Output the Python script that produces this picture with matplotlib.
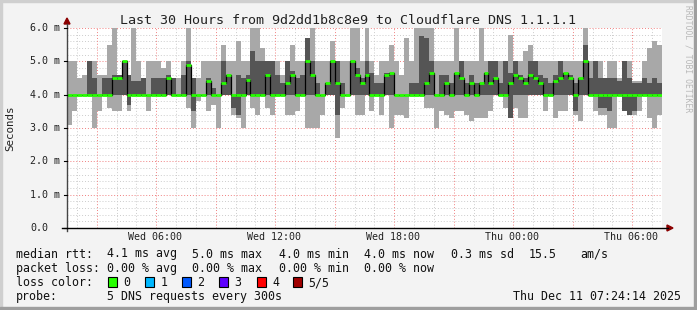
import numpy as np
import matplotlib
matplotlib.use("Agg")
import matplotlib.pyplot as plt
from matplotlib.patches import Rectangle, Polygon
from matplotlib.lines import Line2D

# smoke data, one column per 15 minutes (ms): min, 2nd, median, 4th, max ping
mins = [3.1, 3.5, 4.0, 4.0, 4.0, 3.0, 3.5, 4.0, 3.6, 3.5, 3.5, 4.0, 3.5, 4.0, 4.0, 4.0, 3.5, 4.0, 4.0, 4.0,
        4.0, 4.0, 4.0, 4.0, 3.6, 3.0, 3.8, 4.0, 3.5, 3.7, 3.0, 4.0, 4.0, 3.4, 3.3, 3.0, 4.0, 3.6, 3.4, 4.0,
        3.6, 3.4, 4.0, 4.0, 3.4, 3.4, 3.5, 4.0, 3.0, 3.0, 3.0, 3.4, 4.0, 4.0, 2.7, 3.6, 4.0, 4.0, 3.4, 3.4,
        4.0, 3.5, 4.0, 3.4, 4.0, 3.0, 3.4, 3.4, 3.3, 4.0, 4.0, 4.0, 3.6, 3.6, 3.0, 3.5, 3.4, 3.3, 3.5, 3.5,
        3.4, 3.2, 3.3, 3.3, 3.3, 3.5, 4.0, 4.0, 3.6, 3.3, 3.6, 3.3, 3.3, 4.0, 4.0, 4.0, 3.5, 4.0, 3.3, 3.5,
        3.5, 4.0, 3.4, 3.2, 4.0, 4.0, 3.5, 3.4, 3.4, 3.0, 3.0, 4.0, 3.5, 3.4, 3.4, 3.5, 4.0, 3.3, 3.0, 3.4]
lows = [4.0, 4.0, 4.0, 4.0, 4.0, 4.0, 4.0, 4.0, 4.0, 4.0, 4.0, 4.0, 3.7, 4.0, 4.0, 4.0, 4.0, 4.0, 4.0, 4.0,
        4.0, 4.0, 4.0, 4.0, 4.0, 3.5, 4.0, 4.0, 4.0, 4.0, 4.0, 4.0, 4.0, 3.6, 3.4, 4.0, 4.0, 4.0, 4.0, 4.0,
        4.0, 4.0, 4.0, 4.0, 4.0, 4.0, 4.0, 4.0, 4.0, 4.0, 4.0, 4.0, 4.0, 4.0, 3.4, 4.0, 4.0, 4.0, 4.0, 4.0,
        4.0, 4.0, 4.0, 4.0, 4.0, 4.0, 4.0, 4.0, 4.0, 4.0, 4.0, 4.0, 4.0, 4.0, 4.0, 4.0, 4.0, 4.0, 4.0, 4.0,
        4.0, 4.0, 4.0, 4.0, 4.0, 4.0, 4.0, 4.0, 4.0, 3.3, 4.0, 4.0, 4.0, 4.0, 4.0, 4.0, 4.0, 4.0, 4.0, 4.0,
        4.0, 4.0, 3.5, 4.0, 4.0, 4.0, 4.0, 3.6, 3.6, 3.5, 4.0, 4.0, 3.5, 3.4, 3.5, 4.0, 4.0, 4.0, 4.0, 4.0]
medians = [4.0, 4.0, 4.0, 4.0, 4.0, 4.0, 4.0, 4.0, 4.0, 4.5, 4.5, 5.0, 4.0, 4.0, 4.0, 4.0, 4.0, 4.0, 4.0, 4.0,
           4.5, 4.0, 4.0, 4.0, 4.9, 4.0, 4.0, 4.0, 4.4, 4.0, 4.0, 4.35, 4.6, 4.0, 4.0, 4.0, 4.45, 4.0, 4.0, 4.0,
           4.6, 4.0, 4.0, 4.0, 4.35, 4.6, 4.0, 4.0, 5.0, 4.6, 4.0, 4.0, 4.35, 5.0, 4.35, 4.0, 4.0, 5.0, 4.6, 4.35,
           4.6, 4.0, 4.0, 4.0, 4.6, 4.65, 4.0, 4.0, 4.0, 4.0, 4.0, 4.0, 4.35, 4.65, 4.0, 4.0, 4.35, 4.0, 4.65, 4.5,
           4.0, 4.35, 4.0, 4.35, 4.65, 4.35, 4.5, 4.0, 4.0, 4.35, 4.6, 4.5, 4.35, 4.6, 4.5, 4.35, 4.0, 4.0, 4.4, 4.5,
           4.65, 4.5, 4.0, 4.5, 5.0, 4.0, 4.0, 4.0, 4.0, 4.0, 4.0, 4.0, 4.0, 4.0, 4.0, 4.0, 4.0, 4.0, 4.0, 4.0]
highs = [4.0, 4.0, 4.0, 4.0, 5.0, 4.5, 4.0, 4.5, 4.5, 4.6, 4.6, 5.0, 4.6, 4.4, 4.4, 4.5, 4.0, 4.5, 4.5, 4.5,
         4.6, 4.5, 4.0, 4.6, 5.0, 4.5, 4.0, 4.0, 4.5, 4.2, 4.0, 5.0, 4.6, 4.0, 4.6, 4.5, 4.6, 5.3, 5.0, 5.0,
         5.0, 5.0, 4.6, 4.35, 5.0, 4.7, 4.5, 4.6, 5.7, 5.0, 4.35, 4.0, 4.35, 5.0, 5.0, 4.35, 4.0, 5.0, 4.8, 4.5,
         5.0, 4.65, 4.35, 4.35, 4.65, 4.65, 4.0, 4.0, 4.0, 4.35, 4.35, 5.75, 5.7, 5.0, 4.0, 4.6, 4.6, 4.35, 4.65, 5.0,
         4.35, 4.6, 4.35, 4.35, 4.65, 5.0, 5.0, 4.35, 5.0, 4.65, 5.0, 4.6, 4.5, 5.0, 5.0, 4.6, 4.5, 4.35, 4.6, 5.0,
         4.65, 4.6, 4.35, 4.5, 5.5, 4.5, 5.0, 4.5, 4.5, 4.5, 4.5, 4.4, 5.0, 4.5, 4.35, 4.35, 4.5, 4.35, 4.5, 4.35]
maxs = [5.0, 5.0, 4.5, 4.6, 5.0, 5.0, 4.6, 4.6, 5.5, 6.0, 4.6, 5.0, 4.6, 6.0, 5.0, 4.5, 5.0, 5.0, 5.0, 4.8,
        5.0, 4.5, 4.5, 5.0, 6.0, 4.5, 4.5, 5.0, 5.0, 5.0, 5.0, 5.5, 5.0, 5.0, 5.6, 5.0, 5.0, 6.0, 6.0, 5.4,
        5.0, 5.0, 5.0, 4.6, 5.0, 5.5, 5.0, 5.0, 5.7, 6.0, 5.0, 5.0, 5.0, 5.6, 5.0, 5.0, 5.0, 6.0, 6.0, 5.0,
        6.0, 5.0, 4.6, 5.0, 5.0, 5.5, 5.0, 4.6, 5.7, 5.0, 6.0, 6.0, 6.0, 6.0, 5.0, 5.0, 5.0, 5.0, 6.0, 5.0,
        5.0, 5.0, 5.0, 6.0, 5.0, 5.0, 5.0, 5.0, 5.0, 5.8, 5.0, 5.0, 5.3, 5.5, 5.0, 5.0, 5.0, 5.0, 5.0, 5.0,
        5.0, 5.0, 5.0, 5.0, 6.0, 5.0, 5.0, 5.0, 4.5, 5.0, 5.0, 4.5, 5.0, 5.0, 4.4, 4.4, 5.0, 5.4, 5.6, 5.5]

# time axis in hours since Wed 00:00
t_start = 1.5
t_step = 0.25
xtick_hours = [6, 12, 18, 24, 30]
xtick_labels = ["Wed 06:00", "Wed 12:00", "Wed 18:00", "Thu 00:00", "Thu 06:00"]
ytick_vals = [0, 1, 2, 3, 4, 5, 6]
ytick_labels = ["0.0", "1.0 m", "2.0 m", "3.0 m", "4.0 m", "5.0 m", "6.0 m"]

loss_names = ["0", "1", "2", "3", "4", "5/5"]
loss_colors = ["#26ff00", "#00b8ff", "#0059ff", "#5e00ff", "#ff0000", "#a00000"]

W, H = 697, 310
MONO = "DejaVu Sans Mono"


def P(x, y):
    return x / W, 1 - y / H


fig = plt.figure(figsize=(W / 100, H / 100), dpi=100)
fig.patch.set_facecolor("#f3f3f3")

# frame shading
fig.patches.append(Rectangle((0, 0), 2 / W, 1, transform=fig.transFigure, color="#cfcfcf", zorder=0))
fig.patches.append(Rectangle((0, 1 - 2 / H), 1, 2 / H, transform=fig.transFigure, color="#cfcfcf", zorder=0))
fig.patches.append(Rectangle((1 - 3 / W, 0), 3 / W, 1, transform=fig.transFigure, color="#9e9e9e", zorder=0))
fig.patches.append(Rectangle((0, 0), 1, 3 / H, transform=fig.transFigure, color="#9e9e9e", zorder=0))

left, right, top, bottom = 67, 662, 28, 228
ax = fig.add_axes([left / W, 1 - bottom / H, (right - left) / W, (bottom - top) / H])
ax.set_facecolor("white")
for s in ax.spines.values():
    s.set_visible(False)
ax.set_xticks([])
ax.set_yticks([])
t_end = t_start + t_step * len(medians)
ax.set_xlim(t_start, t_end)
ax.set_ylim(0, 6.0)

# grid
dot = (0, (1, 2))
for v in np.arange(0.2, 6.01, 0.2):
    if abs(v - round(v)) > 1e-6:
        ax.axhline(v, color="#cccccc", lw=0.7, ls=dot, zorder=1)
for h in range(2, 32):
    if h % 3:
        ax.axvline(h, color="#cccccc", lw=0.7, ls=dot, zorder=1)
for v in range(1, 7):
    ax.axhline(v, color="#f08080", lw=0.7, ls=dot, zorder=1.1)
for h in range(3, 32, 3):
    ax.axvline(h, color="#f08080", lw=0.7, ls=dot, zorder=1.1)

edges = t_start + t_step * np.arange(len(medians) + 1)
ext = lambda a: np.append(a, a[-1])
ax.fill_between(edges, ext(mins), ext(maxs), step="post", color="#a8a8a8", lw=0, zorder=2)
ax.fill_between(edges, ext(lows), ext(highs), step="post", color="#555555", lw=0, zorder=3)
ax.step(edges, ext(medians), where="post", color="black", lw=0.9, zorder=4)
ax.hlines(medians, edges[:-1], edges[1:], color=loss_colors[0], lw=2, zorder=5)

# axes lines with arrows
fig.lines.append(Line2D([P(left, 0)[0]] * 2, [P(0, bottom + 3)[1], P(0, 24)[1]],
                        transform=fig.transFigure, color="#444444", lw=1))
fig.lines.append(Line2D([P(62, 0)[0], P(668, 0)[0]], [P(0, bottom)[1]] * 2,
                        transform=fig.transFigure, color="black", lw=1))
fig.patches.append(Polygon([P(left - 3, 24), P(left + 3, 24), P(left, 18)], closed=True,
                           transform=fig.transFigure, color="#8b0000"))
fig.patches.append(Polygon([P(667, bottom - 3), P(667, bottom + 3), P(673, bottom)], closed=True,
                           transform=fig.transFigure, color="#8b0000"))
for v in ytick_vals:
    y = bottom - v * (bottom - top) / 6
    fig.lines.append(Line2D([P(left - 3, 0)[0], P(left, 0)[0]], [P(0, y)[1]] * 2,
                            transform=fig.transFigure, color="black", lw=0.8))

# tick labels
for v, lab in zip(ytick_vals, ytick_labels):
    y = bottom - v * (bottom - top) / 6
    xr = 48 if v == 0 else 60
    fig.text(*P(xr, y), lab, family=MONO, fontsize=7.2, ha="right", va="center", color="#222222")
for h, lab in zip(xtick_hours, xtick_labels):
    x = left + (h - t_start) / (t_end - t_start) * (right - left)
    fig.text(*P(x - 1, 237), lab, family=MONO, fontsize=7.2, ha="center", va="center", color="#222222")

fig.text(*P(348, 20), "Last 30 Hours from 9d2dd1b8c8e9 to Cloudflare DNS 1.1.1.1", family=MONO,
         fontsize=9.6, ha="center", va="center", color="#222222")
fig.text(*P(10, 128), "Seconds", family=MONO, fontsize=7.8, rotation=90, ha="center", va="center",
         color="#222222")
fig.text(*P(688, 5), "RRDTOOL / TOBI OETIKER", family=MONO, fontsize=5.8, rotation=270, ha="center",
         va="top", color="#b8b8b8")

# legend
fs = 8.4
rows = [
    (254, [(16, "median rtt:"), (107, "4.1 ms avg"), (192.5, "5.0 ms max"), (279, "4.0 ms min"),
           (364.5, "4.0 ms now"), (451, "0.3 ms sd"), (529, "15.5"), (580, "am/s")]),
    (268.5, [(16, "packet loss:"), (107, "0.00 % avg"), (192.5, "0.00 % max"), (279, "0.00 % min"),
             (364.5, "0.00 % now")]),
    (282.5, [(16, "loss color:")]),
    (296.5, [(16, "probe:"), (107, "5 DNS requests every 300s")]),
]
for y, items in rows:
    for x, s in items:
        fig.text(*P(x, y), s, family=MONO, fontsize=fs, ha="left", va="center", color="#111111")
fig.text(*P(681, 296.5), "Thu Dec 11 07:24:14 2025", family=MONO, fontsize=fs, ha="right",
         va="center", color="#111111")

box_x = [108, 145, 182, 219, 256.5, 293]
for bx, name, col in zip(box_x, loss_names, loss_colors):
    x0, y0 = P(bx, 287)
    fig.patches.append(Rectangle((x0, y0), 9 / W, 10 / H, transform=fig.transFigure,
                                 facecolor=col, edgecolor="black", lw=0.8))
    fig.text(*P(bx + 15.5, 282.5), name, family=MONO, fontsize=fs, ha="left", va="center",
             color="#111111")

fig.savefig("out.png", dpi=100, facecolor=fig.get_facecolor())
